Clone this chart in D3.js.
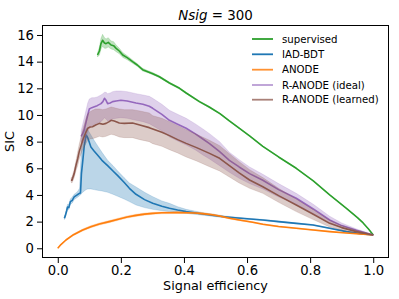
<!DOCTYPE html>
<html>
<head>
<meta charset="utf-8">
<script src="https://cdn.jsdelivr.net/npm/d3@7"></script>
<style>
  body { margin: 0; background: #fff; }
  text { font-family: "DejaVu Sans", sans-serif; fill: #000; }
</style>
</head>
<body>
<script>
'use strict';

// ---- data ----
const xTicks = [0, 0.2, 0.4, 0.6, 0.8, 1.0];
const yTicks = [0, 2, 4, 6, 8, 10, 12, 14, 16];
const seriesNames = ["supervised", "IAD-BDT", "ANODE", "R-ANODE (ideal)", "R-ANODE (learned)"];
const seriesColors = ["#2ca02c", "#1f77b4", "#ff7f0e", "#9467bd", "#8c564b"];

const supEff = [0.126,0.132,0.137,0.142,0.148,0.153,0.16,0.169,0.177,0.185,0.195,0.206,0.22,0.237,0.252,0.269,0.285,0.301,0.322,0.354,0.386,0.407,0.449,0.48,0.514,0.544,0.576,0.61,0.65,0.7,0.756,0.81,0.862,0.915,0.95,0.968,0.985,1.0];
const supSic = [14.5,14.8,15.35,15.6,15.4,15.35,15.45,15.25,15.2,15.0,14.8,14.5,14.3,14.0,13.75,13.4,13.25,13.1,12.87,12.4,12.0,11.65,11.0,10.6,10.1,9.55,9.0,8.4,7.65,6.85,6.0,5.05,4.0,3.0,2.3,1.9,1.45,1.0];
const supErr = [0.15,0.3,0.4,0.45,0.4,0.35,0.35,0.3,0.3,0.25,0.2,0.18,0.15,0.12,0.1,0.1,0.08,0.08,0.07,0.06,0.06,0.05,0.05,0.05,0.04,0.04,0.04,0.03,0.03,0.03,0.03,0.02,0.02,0.02,0.02,0.01,0.01,0];

const bdtEff = [0.021,0.024,0.028,0.031,0.035,0.04,0.046,0.052,0.058,0.064,0.069,0.072,0.075,0.079,0.084,0.09,0.095,0.105,0.115,0.126,0.14,0.158,0.175,0.19,0.21,0.227,0.248,0.275,0.301,0.33,0.354,0.38,0.407,0.46,0.513,0.544,0.6,0.65,0.7,0.756,0.809,0.862,0.915,0.96,1.0];
const bdtSic = [2.25,2.45,2.8,3.1,3.05,3.5,3.6,3.85,3.95,4.05,4.12,4.15,5.6,6.5,7.7,8.5,8.3,7.6,7.3,7.0,6.6,6.2,5.8,5.45,4.95,4.5,4.05,3.65,3.37,3.15,3.0,2.87,2.75,2.57,2.4,2.33,2.22,2.12,2.0,1.87,1.75,1.5,1.25,1.1,1.0];
const bdtLo = [2.15,2.35,2.65,2.9,2.9,3.3,3.4,3.65,3.75,3.85,3.95,4.0,4.1,4.2,4.3,4.4,4.45,4.45,4.4,4.35,4.3,4.2,4.05,3.9,3.7,3.5,3.25,3.05,2.92,2.82,2.75,2.68,2.62,2.48,2.33,2.28,2.18,2.08,1.96,1.84,1.72,1.47,1.23,1.09,1.0];
const bdtHi = [2.35,2.6,3.0,3.3,3.3,3.7,3.85,4.05,4.15,4.3,4.5,6.0,7.6,8.4,8.8,9.0,8.9,8.5,8.1,7.7,7.2,6.6,6.2,5.8,5.3,4.9,4.6,4.2,3.87,3.55,3.37,3.12,2.92,2.67,2.48,2.38,2.26,2.16,2.04,1.9,1.78,1.53,1.27,1.11,1.0];

const anoEff = [0,0.01,0.026,0.05,0.079,0.105,0.132,0.163,0.195,0.22,0.248,0.275,0.301,0.33,0.354,0.38,0.407,0.435,0.46,0.49,0.513,0.544,0.58,0.618,0.65,0.7,0.756,0.81,0.862,0.915,0.968,1.0];
const anoSic = [0,0.28,0.62,1.02,1.37,1.62,1.82,2.0,2.2,2.35,2.47,2.56,2.62,2.66,2.67,2.68,2.67,2.65,2.6,2.52,2.42,2.25,2.1,1.95,1.8,1.63,1.5,1.37,1.25,1.15,1.05,1.0];
const anoErr = [0,0.02,0.04,0.06,0.07,0.08,0.08,0.08,0.08,0.08,0.08,0.08,0.07,0.07,0.07,0.07,0.06,0.06,0.06,0.06,0.05,0.05,0.05,0.04,0.04,0.04,0.03,0.03,0.02,0.02,0.01,0];

const idEff = [0.074,0.079,0.084,0.09,0.095,0.1,0.108,0.116,0.125,0.137,0.143,0.148,0.153,0.158,0.166,0.174,0.185,0.2,0.22,0.248,0.27,0.29,0.301,0.33,0.354,0.38,0.407,0.435,0.46,0.481,0.513,0.544,0.575,0.608,0.65,0.7,0.756,0.81,0.862,0.9,0.947,1.0];
const idSic = [8.4,8.6,8.9,9.5,10.0,10.45,10.55,10.62,10.7,10.85,11.0,11.25,11.1,10.85,10.9,11.0,11.05,11.1,11.05,10.9,10.8,10.65,10.5,10.05,9.6,9.3,9.0,8.6,8.2,7.85,7.25,6.6,6.1,5.6,5.1,4.4,3.75,2.95,2.12,1.7,1.35,1.0];
const idLo = [8.0,7.9,7.95,8.3,8.7,9.1,9.2,9.3,9.4,9.5,9.65,9.8,9.7,9.55,9.6,9.7,9.75,9.8,9.75,9.6,9.5,9.35,9.2,8.8,8.35,8.05,7.75,7.4,7.0,6.7,6.2,5.7,5.25,4.85,4.45,3.85,3.3,2.6,1.9,1.55,1.27,0.98];
const idHi = [8.8,9.3,9.8,10.4,10.9,11.2,11.3,11.3,11.35,11.5,11.6,11.7,11.7,11.6,11.65,11.75,11.8,11.8,11.75,11.6,11.5,11.4,11.25,10.8,10.35,10.05,9.75,9.35,8.95,8.6,8.0,7.2,6.65,6.1,5.55,4.85,4.12,3.3,2.4,1.9,1.45,1.02];

const leEff = [0.042,0.045,0.047,0.052,0.058,0.063,0.068,0.074,0.079,0.084,0.09,0.095,0.103,0.11,0.12,0.132,0.143,0.153,0.163,0.169,0.179,0.185,0.195,0.211,0.237,0.26,0.29,0.301,0.33,0.354,0.38,0.407,0.44,0.481,0.513,0.544,0.575,0.608,0.65,0.7,0.756,0.81,0.862,0.9,0.947,1.0];
const leSic = [5.12,5.1,5.25,5.6,6.25,6.7,7.25,7.7,8.1,8.4,8.75,9.0,9.1,9.12,9.25,9.37,9.3,9.37,9.5,9.6,9.55,9.5,9.4,9.37,9.4,9.25,9.05,8.95,8.7,8.45,8.15,7.87,7.55,7.12,6.75,6.2,5.65,5.12,4.62,3.95,3.25,2.55,1.87,1.55,1.25,1.0];
const leLo = [4.95,4.9,5.0,5.3,5.85,6.2,6.7,7.1,7.4,7.6,7.9,8.1,8.2,8.22,8.3,8.4,8.35,8.4,8.5,8.55,8.5,8.45,8.35,8.3,8.3,8.15,8.0,7.85,7.65,7.4,7.15,6.85,6.55,6.12,5.8,5.35,4.9,4.5,4.12,3.45,2.75,2.15,1.6,1.38,1.15,0.98];
const leHi = [5.3,5.3,5.5,5.9,6.6,7.2,7.8,8.4,8.9,9.3,9.8,10.1,10.25,10.35,10.45,10.45,10.4,10.45,10.55,10.6,10.55,10.5,10.45,10.4,10.4,10.3,10.15,9.95,9.75,9.5,9.2,8.9,8.55,8.1,7.7,7.1,6.5,5.9,5.3,4.5,3.7,2.9,2.1,1.7,1.35,1.02];

// ---- build series rows ----
const rows = (eff, sic, lo, hi) => eff.map((e, i) => ({ e: e, v: sic[i], lo: lo[i], hi: hi[i] }));
const series = [
	rows(supEff, supSic, supSic.map((v, i) => v - supErr[i]), supSic.map((v, i) => v + supErr[i])),
	rows(bdtEff, bdtSic, bdtLo, bdtHi),
	rows(anoEff, anoSic, anoSic.map((v, i) => v - anoErr[i]), anoSic.map((v, i) => v + anoErr[i])),
	rows(idEff, idSic, idLo, idHi),
	rows(leEff, leSic, leLo, leHi)
];

const W = 399, H = 299;
const plot = { left: 42, top: 25, right: 389, bottom: 258 };

const svg = d3.select("body").append("svg")
	.attr("width", W)
	.attr("height", H);

const x = d3.scaleLinear().domain([-0.05, 1.05]).range([plot.left, plot.right]);
const y = d3.scaleLinear().domain([-0.73, 16.75]).range([plot.bottom, plot.top]);

const area = d3.area()
	.x(d => x(d.e))
	.y0(d => y(d.lo))
	.y1(d => y(d.hi));
const line = d3.line()
	.x(d => x(d.e))
	.y(d => y(d.v));

const g = svg.append("g");
series.forEach((s, i) => {
	g.append("path")
		.attr("d", area(s))
		.attr("fill", seriesColors[i])
		.attr("fill-opacity", 0.3)
		.attr("stroke", seriesColors[i])
		.attr("stroke-opacity", 0.3)
		.attr("stroke-width", 0.6);
	g.append("path")
		.attr("d", line(s))
		.attr("fill", "none")
		.attr("stroke", seriesColors[i])
		.attr("stroke-width", 1.6)
		.attr("stroke-linejoin", "round");
});

// axes
const xAxis = svg.append("g")
	.attr("transform", `translate(0, ${plot.bottom})`)
	.call(d3.axisBottom(x).tickValues(xTicks).tickFormat(d3.format(".1f")).tickSize(5).tickPadding(3));
const yAxis = svg.append("g")
	.attr("transform", `translate(${plot.left}, 0)`)
	.call(d3.axisLeft(y).tickValues(yTicks).tickFormat(d3.format("d")).tickSize(5).tickPadding(3));
[xAxis, yAxis].forEach(a => {
	a.select(".domain").remove();
	a.selectAll("line").attr("stroke", "#000").attr("stroke-width", 1);
	a.selectAll("text").attr("font-family", "DejaVu Sans").attr("font-size", 13.2).attr("fill", "#000");
});

svg.append("rect")
	.attr("x", plot.left + 0.5)
	.attr("y", plot.top + 0.5)
	.attr("width", plot.right - plot.left - 1)
	.attr("height", plot.bottom - plot.top - 1)
	.attr("fill", "none")
	.attr("stroke", "#000")
	.attr("stroke-width", 1);

// labels
svg.append("text")
	.attr("x", (plot.left + plot.right) / 2)
	.attr("y", 290)
	.attr("text-anchor", "middle")
	.attr("font-size", 12.8)
	.text("Signal efficiency");

svg.append("text")
	.attr("transform", `translate(14, ${(plot.top + plot.bottom) / 2}) rotate(-90)`)
	.attr("text-anchor", "middle")
	.attr("font-size", 12.8)
	.text("SIC");

const title = svg.append("text")
	.attr("x", (plot.left + plot.right) / 2)
	.attr("y", 20)
	.attr("text-anchor", "middle")
	.attr("font-size", 13.4);
title.append("tspan").attr("font-style", "italic").text("Nsig");
title.append("tspan").text(" = 300");

// legend
const legendY = [39, 54.3, 69.7, 85, 99.7];
const legendAlpha = [1, 1, 0.85, 0.65, 0.75];
const legend = svg.append("g");
seriesNames.forEach((name, i) => {
	legend.append("line")
		.attr("x1", 252).attr("x2", 273)
		.attr("y1", legendY[i]).attr("y2", legendY[i])
		.attr("stroke", seriesColors[i])
		.attr("stroke-opacity", legendAlpha[i])
		.attr("stroke-width", 1.8);
	legend.append("text")
		.attr("x", 282)
		.attr("y", legendY[i])
		.attr("dy", "0.36em")
		.attr("font-size", 10.2)
		.text(name);
});
</script>
</body>
</html>
